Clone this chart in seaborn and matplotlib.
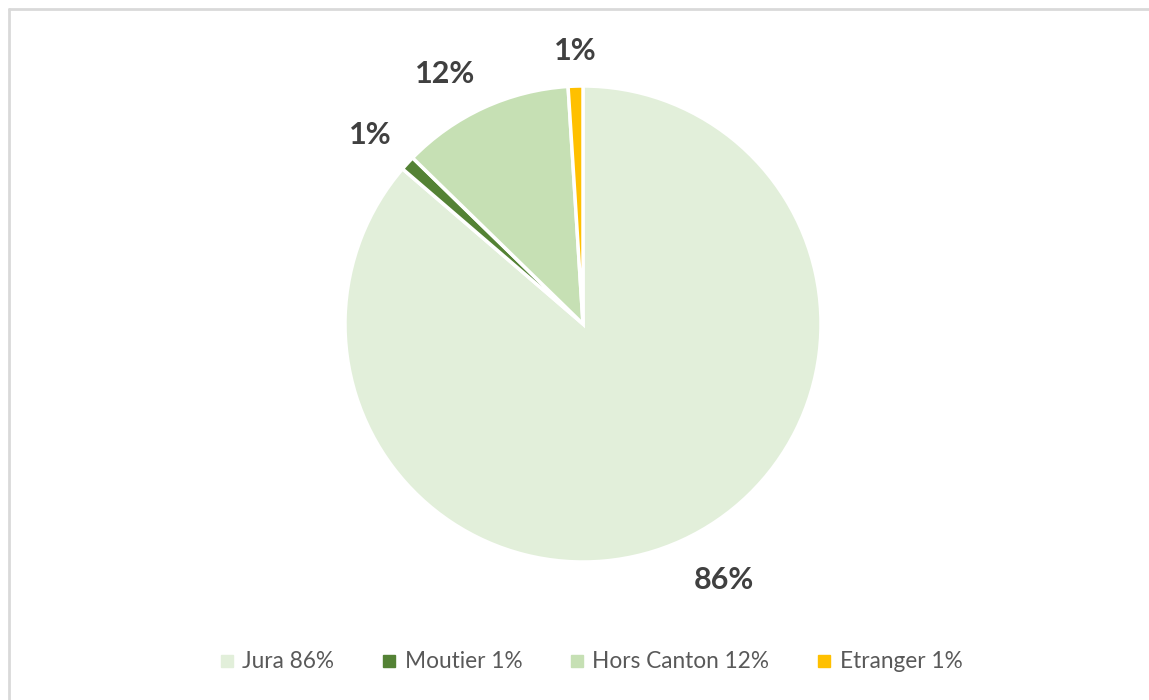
import matplotlib
matplotlib.use("Agg")
import numpy as np
import matplotlib.pyplot as plt
from matplotlib.lines import Line2D
import seaborn as sns

categories = ["Jura", "Moutier", "Hors Canton", "Etranger"]
values = [86.3, 1.0, 11.7, 1.0]
colors = ["#E2EFDA", "#548235", "#C6E0B4", "#FFC000"]

sns.set_theme(style="white")
plt.rcParams["font.family"] = ["Lato", "DejaVu Sans"]

W, H = 1149, 700
fig = plt.figure(figsize=(W / 100, H / 100), dpi=100)
fig.patch.set_facecolor("white")

cx, cy, r = 583, 324, 238
ax = fig.add_axes([(cx - r) / W, (H - cy - r) / H, 2 * r / W, 2 * r / H])
wedges, texts, autotexts = ax.pie(
    values,
    colors=colors,
    startangle=90,
    counterclock=False,
    radius=1.0,
    autopct=lambda p: f"{p:.0f}%",
    pctdistance=1.1,
    wedgeprops=dict(edgecolor="white", linewidth=2.5),
    textprops=dict(color="#404040", fontsize=22, fontweight="bold"),
)
# Excel-like placement: label edge anchored just outside the wedge
for w, t in zip(wedges, autotexts):
    ang = np.deg2rad((w.theta1 + w.theta2) / 2)
    c, s = np.cos(ang), np.sin(ang)
    d = 1.12 if s < 0 else 1.09
    t.set_position((d * c, d * s))
    t.set_ha("left" if c > 0.15 else ("right" if c < -0.15 else "center"))
    t.set_va("bottom" if s > 0 else "top")

ax.set_xlim(-1, 1)
ax.set_ylim(-1, 1)
ax.set_aspect("equal")
ax.axis("off")

handles = [Line2D([0], [0], marker="s", linestyle="none", markersize=8,
                  markerfacecolor=c, markeredgecolor=c) for c in colors]
labels = [f"{c} {v:.0f}%" for c, v in zip(categories, values)]
leg = fig.legend(handles, labels, loc="center", bbox_to_anchor=(590 / W, 1 - 662 / H),
                 ncol=4, frameon=False, fontsize=16.3, handlelength=0.8,
                 handletextpad=0.3, columnspacing=2.0, labelcolor="#595959")

# chart frame (top and left edges visible)
fig.add_artist(Line2D([9 / W, 1.0], [1 - 9 / H, 1 - 9 / H], color="#D9D9D9", lw=2,
                      transform=fig.transFigure))
fig.add_artist(Line2D([9 / W, 9 / W], [0, 1 - 9 / H], color="#D9D9D9", lw=2,
                      transform=fig.transFigure))

fig.savefig("out.png", dpi=100, facecolor="white")
